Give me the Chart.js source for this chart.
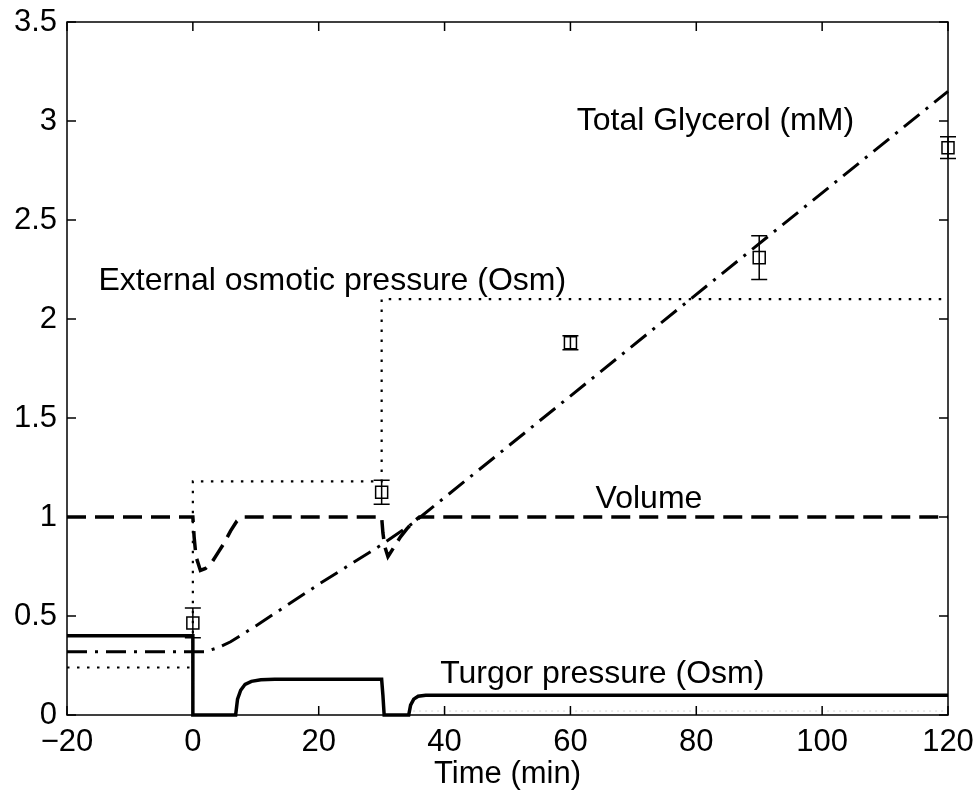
<!DOCTYPE html>
<html>
<head>
<meta charset="utf-8">
<title>Glycerol response</title>
<script src="https://cdn.jsdelivr.net/npm/chart.js@4.4.1/dist/chart.umd.min.js"></script>
<style>
html,body{margin:0;padding:0;background:#fff;}
canvas{display:block;}
</style>
</head>
<body>
<canvas id="grafico" width="978" height="797"></canvas>
<script>
const xTicks = [-20, 0, 20, 40, 60, 80, 100, 120];
const xTickLabels = ["\u221220", "0", "20", "40", "60", "80", "100", "120"];
const yTicks = [0, 0.5, 1, 1.5, 2, 2.5, 3, 3.5];
const yTickLabels = ["0", "0.5", "1", "1.5", "2", "2.5", "3", "3.5"];

const turgorTempo = [-20, 0, 0, 6.8, 7.1, 7.6, 8.3, 9.3, 10.8, 13, 30, 30.2, 30.4, 34.3, 34.6, 35.1, 35.8, 37, 120];
const turgorValor = [0.4, 0.4, 0, 0, 0.08, 0.125, 0.155, 0.17, 0.178, 0.18, 0.18, 0.1, 0, 0, 0.05, 0.08, 0.095, 0.1, 0.1];

const volumeTempo = [-20, 0, 0.2, 0.5, 1.2, 2, 3, 4, 5, 6, 7, 7.8, 30, 30.2, 30.5, 31, 32, 33, 34, 35, 36, 120];
const volumeValor = [1, 1, 0.9, 0.8, 0.73, 0.74, 0.77, 0.82, 0.87, 0.93, 0.98, 1, 1, 0.92, 0.85, 0.8, 0.85, 0.9, 0.94, 0.975, 1, 1];

const glicerolTempo = [-20, 2, 4, 6, 8, 10, 15, 20, 25, 30, 35, 120];
const glicerolValor = [0.32, 0.32, 0.34, 0.37, 0.41, 0.45, 0.555, 0.66, 0.76, 0.86, 0.97, 3.15];

const osmoticaTempo = [-20, 0, 0, 30, 30, 120];
const osmoticaValor = [0.24, 0.24, 1.18, 1.18, 2.1, 2.1];

const residuoTempo = [35, 120];
const residuoValor = [0.02, 0.02];

const medidasTempo = [0, 30, 60, 90, 120];
const medidasValor = [0.465, 1.125, 1.88, 2.31, 2.865];
const medidasErro = [0.075, 0.06, 0.035, 0.11, 0.055];

const anotacoesTexto = ["Total Glycerol (mM)", "External osmotic pressure (Osm)", "Volume", "Turgor pressure (Osm)"];
const anotacoesX = [61, -15, 64, 39.3];
const anotacoesY = [3.0, 2.19, 1.09, 0.207];

const fonte = "'Liberation Sans', Arial, sans-serif";

function pares(tempos, valores){
    return tempos.map((t, i) => ({x: t, y: valores[i]}));
}

const molduraPlugin = {
    id: "moldura",
    afterDatasetsDraw(chart){
        const {ctx, chartArea: a, scales: {x, y}} = chart;
        ctx.save();
        ctx.strokeStyle = "#000";
        ctx.lineWidth = 1.5;

        ctx.beginPath();
        medidasTempo.forEach((t, i)=>{
            const px = x.getPixelForValue(t);
            const topo = y.getPixelForValue(medidasValor[i] + medidasErro[i]);
            const base = y.getPixelForValue(medidasValor[i] - medidasErro[i]);
            ctx.moveTo(px, topo); ctx.lineTo(px, base);
            ctx.moveTo(px - 8, topo); ctx.lineTo(px + 8, topo);
            ctx.moveTo(px - 8, base); ctx.lineTo(px + 8, base);
        });
        ctx.stroke();

        ctx.strokeRect(a.left, a.top, a.right - a.left, a.bottom - a.top);

        ctx.beginPath();
        xTicks.forEach(v=>{
            const px = x.getPixelForValue(v);
            ctx.moveTo(px, a.bottom); ctx.lineTo(px, a.bottom - 9);
            ctx.moveTo(px, a.top); ctx.lineTo(px, a.top + 9);
        });
        yTicks.forEach(v=>{
            const py = y.getPixelForValue(v);
            ctx.moveTo(a.left, py); ctx.lineTo(a.left + 9, py);
            ctx.moveTo(a.right, py); ctx.lineTo(a.right - 9, py);
        });
        ctx.stroke();

        ctx.fillStyle = "#000";
        ctx.font = "32px " + fonte;
        ctx.textAlign = "left";
        ctx.textBaseline = "middle";
        anotacoesTexto.forEach((texto, i)=>{
            ctx.fillText(texto, x.getPixelForValue(anotacoesX[i]), y.getPixelForValue(anotacoesY[i]));
        });
        ctx.restore();
    }
};

new Chart(document.getElementById("grafico"), {
    type: "scatter",
    data: {
        datasets: [
            {
                data: pares(residuoTempo, residuoValor),
                showLine: true, pointRadius: 0,
                borderColor: "#d4d4d4", borderWidth: 1, borderDash: [2, 4]
            },
            {
                data: pares(osmoticaTempo, osmoticaValor),
                showLine: true, pointRadius: 0,
                borderColor: "#000", borderWidth: 2.2, borderDash: [2.5, 7.5]
            },
            {
                data: pares(glicerolTempo, glicerolValor),
                showLine: true, pointRadius: 0,
                borderColor: "#000", borderWidth: 3, borderDash: [20, 8, 3, 8]
            },
            {
                data: pares(volumeTempo, volumeValor),
                showLine: true, pointRadius: 0,
                borderColor: "#000", borderWidth: 3.5, borderDash: [19, 9]
            },
            {
                data: pares(turgorTempo, turgorValor),
                showLine: true, pointRadius: 0,
                borderColor: "#000", borderWidth: 3.5
            },
            {
                data: pares(medidasTempo, medidasValor),
                showLine: false,
                pointStyle: "rect", pointRadius: 8.5,
                pointBorderWidth: 1.5, pointBorderColor: "#000",
                pointBackgroundColor: "rgba(0,0,0,0)"
            }
        ].map(d => Object.assign({clip: false, tension: 0, borderCapStyle: "butt"}, d))
    },
    options: {
        responsive: false,
        animation: false,
        devicePixelRatio: 1,
        layout: {padding: {top: 22, right: 30, bottom: 0, left: 0}},
        plugins: {
            legend: {display: false},
            tooltip: {enabled: false}
        },
        scales: {
            x: {
                type: "linear", min: -20, max: 120,
                afterBuildTicks: s => { s.ticks = xTicks.map(v => ({value: v})); },
                afterFit: s => { s.height = 82; s.paddingLeft = 0; s.paddingRight = 0; },
                grid: {display: false, drawTicks: false},
                border: {display: false},
                ticks: {
                    padding: 9, color: "#000", maxRotation: 0, autoSkip: false,
                    font: {family: fonte, size: 31},
                    callback: (v, i) => xTickLabels[i]
                },
                title: {
                    display: true, text: "Time (min)", color: "#000",
                    font: {family: fonte, size: 31, lineHeight: 1.2},
                    padding: {top: 0, bottom: 4}
                }
            },
            y: {
                type: "linear", min: 0, max: 3.5,
                afterBuildTicks: s => { s.ticks = yTicks.map(v => ({value: v})); },
                afterFit: s => { s.width = 67; s.paddingTop = 0; s.paddingBottom = 0; },
                grid: {display: false, drawTicks: false},
                border: {display: false},
                ticks: {
                    padding: 10, color: "#000", autoSkip: false,
                    font: {family: fonte, size: 31},
                    callback: (v, i) => yTickLabels[i]
                }
            }
        }
    },
    plugins: [molduraPlugin]
});
</script>
</body>
</html>
